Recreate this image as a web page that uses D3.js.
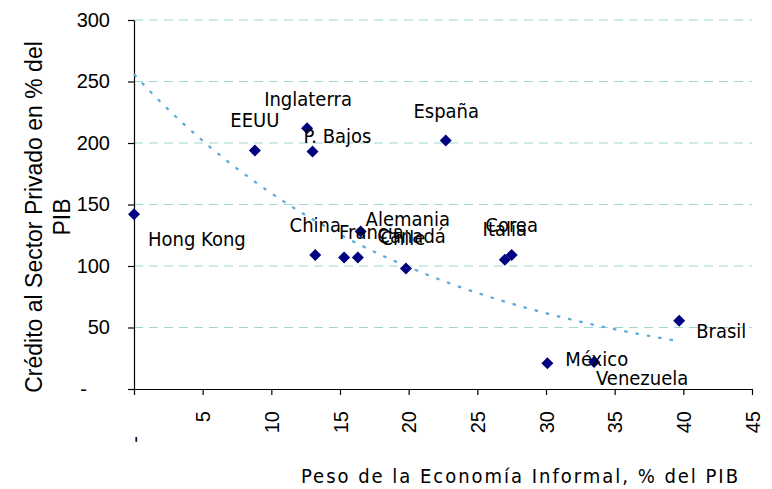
<!DOCTYPE html>
<html>
<head>
<meta charset="utf-8">
<script src="https://cdn.jsdelivr.net/npm/d3@7"></script>
<style>
  html, body { margin: 0; padding: 0; background: #fff; }
  svg { display: block; }
</style>
</head>
<body>
<svg id="chart" width="772" height="489"></svg>
<script>
// Peso de la economía informal vs. crédito al sector privado (% del PIB)
const paises = ["Hong Kong", "EEUU", "Inglaterra", "P. Bajos", "España", "China", "Francia",
  "Alemania", "Canadá", "Chile", "Italia", "Corea", "México", "Venezuela", "Brasil"];
const informal = [0, 8.8, 12.6, 13.0, 22.7, 13.2, 15.3, 16.5, 16.3, 19.8, 27.0, 27.5, 30.1, 33.5, 39.7];
const credito = [142, 194, 212, 193, 202, 109, 107, 128, 107, 98, 105, 109, 21, 22, 55.5];

const xTicks = [0, 5, 10, 15, 20, 25, 30, 35, 40, 45];
const xTickLabels = ["-", "5", "10", "15", "20", "25", "30", "35", "40", "45"];
const yTicks = [0, 50, 100, 150, 200, 250, 300];
const yTickLabels = ["-", "50", "100", "150", "200", "250", "300"];

const xTitle = "Peso de la Economía Informal, % del PIB";
const yTitleLines = ["Crédito al Sector Privado en % del", "PIB"];

// Label placement per country: anchor, dx, dy (text baseline) in pixels from the marker
const labelPlacement = {
  "Hong Kong": ["start", 14, 31.5],
  "EEUU": ["middle", 0, -23],
  "Inglaterra": ["middle", 1, -22.5],
  "P. Bajos": ["start", -9, -9],
  "España": ["middle", 0.5, -23],
  "China": ["middle", 0, -23],
  "Francia": ["start", -5, -18],
  "Alemania": ["start", 5, -6],
  "Canadá": ["end", 88, -14],
  "Chile": ["middle", -3, -23.5],
  "Italia": ["middle", 0, -24],
  "Corea": ["middle", 0, -23],
  "México": ["start", 18, 2.5],
  "Venezuela": ["start", 2, 23],
  "Brasil": ["start", 17, 17.5]
};

const svg = d3.select("#chart");
const plotLeft = 134, plotRight = 752, plotTop = 20, plotBottom = 389;

const x = d3.scaleLinear().domain([0, 45]).range([plotLeft, plotRight]);
const y = d3.scaleLinear().domain([0, 300]).range([plotBottom, plotTop]);

const labelFont = "'DejaVu Sans Condensed', 'DejaVu Sans', sans-serif";
const axisFont = "'Liberation Sans', Arial, sans-serif";

svg.append("rect").attr("width", 772).attr("height", 489).attr("fill", "#fff");

// horizontal dashed gridlines
svg.append("g")
  .selectAll("line")
  .data(yTicks.filter(d => d > 0))
  .join("line")
  .attr("x1", plotLeft).attr("x2", plotRight)
  .attr("y1", d => y(d)).attr("y2", d => y(d))
  .attr("stroke", "#9fd8d3")
  .attr("stroke-width", 1.2)
  .attr("stroke-dasharray", "9,6");

// y axis
const yAxis = svg.append("g")
  .attr("transform", `translate(${plotLeft},0)`)
  .call(d3.axisLeft(y).tickValues(yTicks).tickSize(6).tickSizeOuter(0).tickPadding(18)
    .tickFormat((d, i) => yTickLabels[i]));
yAxis.select(".domain").attr("stroke", "#000").attr("stroke-width", 1.2);
yAxis.selectAll(".tick line").attr("stroke", "#000").attr("stroke-width", 1.2);
yAxis.selectAll(".tick text")
  .attr("font-family", axisFont).attr("font-size", 20).attr("fill", "#000")
  .attr("dx", (d, i) => yTickLabels[i] === "-" ? -23 : 0);

// x axis with rotated tick labels
const xAxis = svg.append("g")
  .attr("transform", `translate(0,${plotBottom})`)
  .call(d3.axisBottom(x).tickValues(xTicks).tickSize(6).tickSizeOuter(0)
    .tickFormat((d, i) => xTickLabels[i]));
xAxis.select(".domain").attr("stroke", "#000").attr("stroke-width", 1.2);
xAxis.selectAll(".tick line").attr("stroke", "#000").attr("stroke-width", 1.2);
xAxis.selectAll(".tick text")
  .attr("font-family", axisFont).attr("font-size", 20).attr("fill", "#000")
  .attr("transform", "rotate(-90)")
  .attr("text-anchor", "end")
  .attr("x", (d, i) => xTickLabels[i] === "-" ? -47 : -22)
  .attr("y", 0)
  .attr("dy", "0.35em");

// exponential trend line fitted by least squares on ln(y)
const pts = informal.map((v, i) => [v, credito[i]]);
const mx = d3.mean(pts, p => p[0]);
const my = d3.mean(pts, p => Math.log(p[1]));
const b = d3.sum(pts, p => (p[0] - mx) * (Math.log(p[1]) - my)) / d3.sum(pts, p => (p[0] - mx) ** 2);
const a = Math.exp(my - b * mx);
const [x0, x1] = d3.extent(informal);
const trend = d3.range(0, 101).map(k => {
  const xv = x0 + (x1 - x0) * k / 100;
  return [xv, a * Math.exp(b * xv)];
});
svg.append("path")
  .datum(trend)
  .attr("d", d3.line().x(d => x(d[0])).y(d => y(d[1])))
  .attr("fill", "none")
  .attr("stroke", "#5aaad6")
  .attr("stroke-width", 2.2)
  .attr("stroke-dasharray", "3.5,8");

// diamond markers
svg.append("g")
  .selectAll("path")
  .data(paises)
  .join("path")
  .attr("d", "M0,-6L6,0L0,6L-6,0Z")
  .attr("transform", (d, i) => `translate(${x(informal[i])},${y(credito[i])})`)
  .attr("fill", "#000080");

// country labels
svg.append("g")
  .selectAll("text")
  .data(paises)
  .join("text")
  .attr("x", (d, i) => x(informal[i]) + labelPlacement[d][1])
  .attr("y", (d, i) => y(credito[i]) + labelPlacement[d][2])
  .attr("text-anchor", d => labelPlacement[d][0])
  .attr("font-family", labelFont)
  .attr("font-size", 20)
  .attr("fill", "#000")
  .text(d => d);

// axis titles
svg.append("text")
  .attr("x", 301).attr("y", 483)
  .attr("font-family", labelFont)
  .attr("font-size", 20)
  .attr("textLength", 437)
  .attr("lengthAdjust", "spacing")
  .attr("fill", "#000")
  .text(xTitle);

const yTitle = svg.append("text")
  .attr("transform", "translate(0,217) rotate(-90)")
  .attr("text-anchor", "middle")
  .attr("font-family", axisFont)
  .attr("font-size", 23)
  .attr("fill", "#000");
yTitle.selectAll("tspan")
  .data(yTitleLines)
  .join("tspan")
  .attr("x", 0)
  .attr("y", (d, i) => 41.5 + i * 28.5)
  .text(d => d);
</script>
</body>
</html>
